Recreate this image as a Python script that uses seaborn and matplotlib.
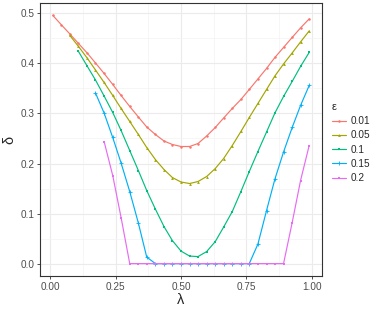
import numpy as np
import pandas as pd
import seaborn as sns
import matplotlib.pyplot as plt

# lambda grid (31 points from 0.01 to 0.99)
lam = [0.010, 0.043, 0.075, 0.108, 0.141, 0.173, 0.206, 0.239, 0.271, 0.304,
       0.337, 0.369, 0.402, 0.435, 0.467, 0.500, 0.533, 0.565, 0.598, 0.631,
       0.663, 0.696, 0.729, 0.761, 0.794, 0.827, 0.859, 0.892, 0.925, 0.957,
       0.990]

eps_levels = ['0.01', '0.05', '0.1', '0.15', '0.2']

delta_001 = [0.496, 0.477, 0.459, 0.440, 0.421, 0.401, 0.380, 0.358, 0.336, 0.314,
             0.293, 0.273, 0.258, 0.245, 0.238, 0.234, 0.234, 0.240, 0.255, 0.272,
             0.291, 0.310, 0.328, 0.348, 0.369, 0.390, 0.412, 0.432, 0.452, 0.471,
             0.489]
delta_005 = [0.456, 0.434, 0.411, 0.387, 0.362, 0.336, 0.310, 0.284, 0.258,
             0.232, 0.208, 0.188, 0.172, 0.163, 0.160, 0.164, 0.174, 0.190, 0.210,
             0.236, 0.264, 0.292, 0.320, 0.348, 0.375, 0.399, 0.421, 0.443, 0.465]
delta_01 = [0.424, 0.395, 0.367, 0.335, 0.302, 0.266, 0.226, 0.186, 0.146, 0.109,
            0.074, 0.046, 0.025, 0.015, 0.014, 0.024, 0.044, 0.073, 0.104, 0.144,
            0.184, 0.224, 0.263, 0.301, 0.334, 0.364, 0.394, 0.422]
delta_015 = [0.341, 0.301, 0.252, 0.201, 0.144, 0.081, 0.013, 0.0, 0.0, 0.0, 0.0,
             0.0, 0.0, 0.0, 0.0, 0.0, 0.0, 0.0, 0.0, 0.039, 0.106, 0.169, 0.223,
             0.272, 0.316, 0.356]
delta_02 = [0.244, 0.176, 0.092, 0.0, 0.0, 0.0, 0.0, 0.0, 0.0, 0.0, 0.0, 0.0, 0.0,
            0.0, 0.0, 0.0, 0.0, 0.0, 0.0, 0.0, 0.0, 0.0, 0.082, 0.166, 0.236]

series = [delta_001, delta_005, delta_01, delta_015, delta_02]

rows = []
for e, d in zip(eps_levels, series):
    start = len(lam) - len(d)
    for l, v in zip(lam[start:], d):
        rows.append({'lambda': l, 'delta': v, 'eps': e})
df = pd.DataFrame(rows)

colors = ['#F8766D', '#A3A500', '#00BF7D', '#00B0F6', '#E76BF3']
markers = ['o', '^', 's', '+', 's']
msizes = [1.8, 2.0, 1.7, 3.0, 1.8]

sns.set_style('white')
plt.rcParams['font.family'] = ['Liberation Sans', 'DejaVu Sans']

fig = plt.figure(figsize=(3.81, 3.09), dpi=100)
ax = fig.add_axes([40 / 381, 1 - 276 / 309, 282 / 381, 273 / 309])

for e, c, m, ms in zip(eps_levels, colors, markers, msizes):
    sub = df[df['eps'] == e]
    sns.lineplot(data=sub, x='lambda', y='delta', color=c, marker=m,
                 markersize=ms, markeredgecolor=c,
                 markeredgewidth=0.6 if m == '+' else 0,
                 linewidth=0.85, label=e, ax=ax)

ax.set_xlim(-0.039, 1.039)
ax.set_ylim(-0.0248, 0.5208)
ax.set_xticks([0.0, 0.25, 0.5, 0.75, 1.0])
ax.set_xticklabels(['0.00', '0.25', '0.50', '0.75', '1.00'])
ax.set_yticks([0.0, 0.1, 0.2, 0.3, 0.4, 0.5])
ax.set_yticklabels(['0.0', '0.1', '0.2', '0.3', '0.4', '0.5'])
ax.set_xticks([0.125, 0.375, 0.625, 0.875], minor=True)
ax.set_yticks([0.05, 0.15, 0.25, 0.35, 0.45], minor=True)
ax.grid(which='major', color='#EBEBEB', linewidth=0.8)
ax.grid(which='minor', color='#F3F3F3', linewidth=0.5)
ax.set_axisbelow(True)
for s in ax.spines.values():
    s.set_color('#333333')
    s.set_linewidth(0.8)
ax.tick_params(which='major', direction='out', length=2.5, width=0.6,
               color='#333333', labelsize=7.2, labelcolor='#4D4D4D', pad=1.5,
               bottom=True, left=True)
ax.tick_params(which='minor', length=0)
ax.set_xlabel('λ', fontsize=10.5, labelpad=1)
ax.set_ylabel('δ', fontsize=10.5, labelpad=3)

leg = ax.legend(title='ε', loc='upper left', bbox_to_anchor=(332 / 381, 1 - 102 / 309),
                bbox_transform=fig.transFigure, frameon=False, fontsize=7.2,
                title_fontsize=8, handlelength=1.4, handletextpad=0.5,
                labelspacing=0.42, borderaxespad=0, borderpad=0)
leg._legend_box.align = 'left'

fig.savefig('out.png', dpi=100)
